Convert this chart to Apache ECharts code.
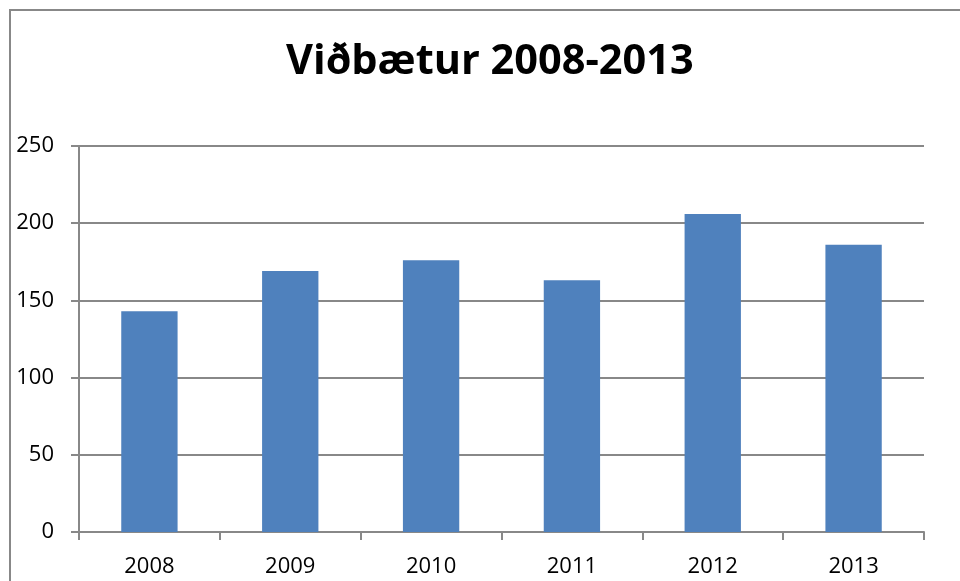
<!DOCTYPE html>
<html>
<head>
<meta charset="utf-8">
<script src="https://cdn.jsdelivr.net/npm/echarts@6/dist/echarts.min.js"></script>
<style>html,body{margin:0;padding:0;background:#fff;}#c{width:960px;height:581px;}</style>
</head>
<body>
<div id="c"></div>
<script>
const categories = ['2008', '2009', '2010', '2011', '2012', '2013'];
const values = [143, 169, 176, 163, 206, 186];
const titleText = 'Viðbætur 2008-2013';

const chart = echarts.init(document.getElementById('c'), null, {renderer: 'canvas'});
const axisGray = '#888888';
chart.setOption({
  animation: false,
  backgroundColor: '#ffffff',
  title: {
    text: titleText,
    left: 281,
    top: 36,
    textStyle: {fontFamily: 'Open Sans', fontWeight: 'bold', fontSize: 41.5, color: '#000'}
  },
  graphic: [{
    type: 'polyline',
    shape: {points: [[10, 581], [10, 10], [960, 10]]},
    style: {stroke: axisGray, lineWidth: 2, fill: null}
  }],
  grid: {left: 79, right: 36, top: 146, bottom: 49},
  xAxis: {
    type: 'category',
    data: categories,
    axisLine: {lineStyle: {color: axisGray, width: 2}},
    axisTick: {show: true, length: 8, lineStyle: {color: axisGray, width: 2}},
    axisLabel: {fontFamily: 'Open Sans', fontSize: 22, color: '#000', margin: 24}
  },
  yAxis: {
    type: 'value',
    min: 0, max: 250, interval: 50,
    axisLine: {show: true, lineStyle: {color: axisGray, width: 2}},
    axisTick: {show: true, length: 8, lineStyle: {color: axisGray, width: 2}},
    splitLine: {lineStyle: {color: axisGray, width: 2}},
    axisLabel: {fontFamily: 'Open Sans', fontSize: 22, color: '#000', margin: 25}
  },
  series: [{
    type: 'bar',
    data: values,
    barWidth: '40%',
    itemStyle: {color: '#4F81BD'}
  }]
});
</script>
</body>
</html>
